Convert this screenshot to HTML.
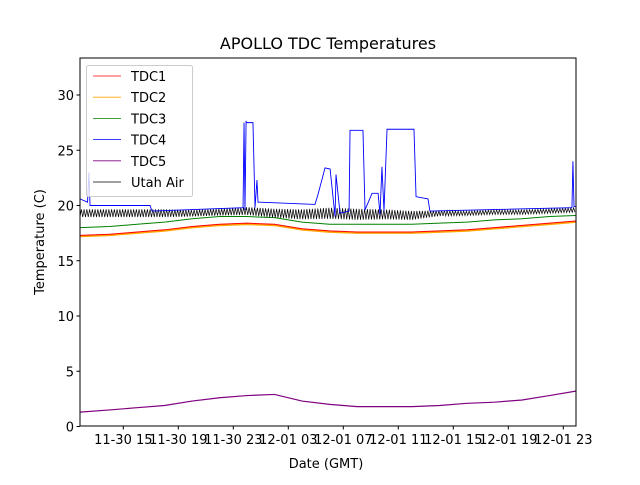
<!DOCTYPE html>
<html><head><meta charset="utf-8"><style>
body{margin:0;background:#fff}
text{font-family:"DejaVu Sans","Liberation Sans",sans-serif}
</style></head><body>
<svg id="chart" width="640" height="480" xmlns="http://www.w3.org/2000/svg">
<rect width="640" height="480" fill="#fff"/>
<text x="328" y="49" font-size="16" text-anchor="middle">APOLLO TDC Temperatures</text>
<g id="plot"></g>
<g id="axes"></g>
<text x="326" y="468" font-size="13" text-anchor="middle">Date (GMT)</text>
<text transform="translate(44,242) rotate(-90)" font-size="13" text-anchor="middle">Temperature (C)</text>
<g id="legend"></g>
</svg>
<script>
// hours since 11-30 00:00 GMT
const smoothHours = [11.85,14,16,18,20,22,24,26,28,30,32,34,36,38,40,42,44,46,47.9];
const tdc1 = [17.3,17.4,17.6,17.8,18.1,18.3,18.4,18.3,17.9,17.7,17.6,17.6,17.6,17.7,17.8,18.0,18.2,18.4,18.6];
const tdc2 = [17.2,17.3,17.5,17.7,18.0,18.2,18.3,18.2,17.8,17.6,17.5,17.5,17.5,17.6,17.7,17.9,18.1,18.3,18.5];
const tdc3 = [18.0,18.1,18.3,18.5,18.8,19.0,19.0,18.9,18.5,18.3,18.3,18.3,18.3,18.4,18.5,18.7,18.8,19.0,19.1];
const tdc5 = [1.3,1.5,1.7,1.9,2.3,2.6,2.8,2.9,2.3,2.0,1.8,1.8,1.8,1.9,2.1,2.2,2.4,2.8,3.2];
const tdc4Hours = [11.85,12.4,12.5,12.58,16.94,17.09,23.71,23.78,23.85,23.93,24.0,24.43,24.58,24.72,24.8,24.94,28.94,29.16,29.67,30.04,30.4,30.47,30.76,31.42,31.49,32.43,32.58,33.09,33.53,33.67,33.81,33.96,34.18,36.14,36.29,37.16,37.3,47.63,47.7,47.78,47.9];
const tdc4 = [20.6,20.3,23.0,20.0,20.0,19.5,19.8,27.5,19.6,27.6,27.5,27.5,19.8,22.3,20.3,20.3,20.1,21.0,23.4,23.3,19.0,22.8,19.3,19.5,26.8,26.8,19.6,21.1,21.1,19.2,23.5,19.5,26.9,26.9,20.8,20.6,19.5,19.8,24.0,19.9,19.9];
const airHours = [11.85,14,16,18,20,22,24,26,28,30,32,34,36,38,40,42,44,46,47.9];
const airBase = [19.3,19.3,19.3,19.3,19.3,19.4,19.5,19.3,19.2,19.3,19.2,19.2,19.1,19.3,19.3,19.4,19.4,19.5,19.6];
const airAmp = [0.35,0.35,0.35,0.35,0.3,0.3,0.35,0.4,0.45,0.5,0.5,0.45,0.4,0.25,0.2,0.2,0.2,0.2,0.2];
const yTicks = [0,5,10,15,20,25,30];
const xTicks = [15,19,23,27,31,35,39,43,47];
const xLabels = ["11-30 15","11-30 19","11-30 23","12-01 03","12-01 07","12-01 11","12-01 15","12-01 19","12-01 23"];
const legendNames = ["TDC1","TDC2","TDC3","TDC4","TDC5","Utah Air"];
const legendColors = ["#ff0000","#ffa500","#008000","#0000ff","#800080","#000000"];

const L=80,R=576,T=58,B=426;
const x = h => 123.3 + (h-15)*13.75;
const y = v => 426.5 - v*11.05;
const NS="http://www.w3.org/2000/svg";
const plot=document.getElementById('plot'), axes=document.getElementById('axes'), leg=document.getElementById('legend');
function mk(tag, attrs, parent){const e=document.createElementNS(NS,tag);for(const k in attrs)e.setAttribute(k,attrs[k]);parent.appendChild(e);return e;}
function interp(hs,vs,h){for(let i=1;i<hs.length;i++){if(h<=hs[i]){const t=(h-hs[i-1])/(hs[i]-hs[i-1]);return vs[i-1]+t*(vs[i]-vs[i-1]);}}return vs[vs.length-1];}
function line(hs,vs,color,name,w){
  const p=mk('polyline',{points:hs.map((h,i)=>x(h).toFixed(2)+','+y(vs[i]).toFixed(2)).join(' '),fill:'none',stroke:color,'stroke-width':w},plot);
  
  
}
line(smoothHours,tdc5,'#800080','series-tdc5',1.2);
line(smoothHours,tdc2,'#ffa500','series-tdc2',1.6);
line(smoothHours,tdc1,'#ff0000','series-tdc1',1.0);
line(smoothHours,tdc3,'#008000','series-tdc3',1.0);
const ah=[],av=[];let s=0;
for(let h=airHours[0];h<=airHours[airHours.length-1];h+=0.1){ah.push(h);av.push(interp(airHours,airBase,h)+(s%2?1:-1)*interp(airHours,airAmp,h));s++;}
line(ah,av,'#000000','series-utah-air',0.7);
line(tdc4Hours,tdc4,'#0000ff','series-tdc4',0.9);

const fr=mk('rect',{x:L,y:T,width:R-L,height:B-T,fill:'none',stroke:'#000','stroke-width':1},axes);


yTicks.forEach(v=>{
  const t=mk('line',{x1:L-3.5,x2:L,y1:y(v),y2:y(v),stroke:'#000'},axes);
  
  
  const tx=mk('text',{x:L-6,y:y(v)+5,'font-size':13,'text-anchor':'end'},axes);
  tx.textContent=v;
  
  
});
xTicks.forEach((h,i)=>{
  const t=mk('line',{x1:x(h),x2:x(h),y1:B,y2:B+3.5,stroke:'#000'},axes);
  
  
  const tx=mk('text',{x:x(h),y:B+18,'font-size':13,'text-anchor':'middle'},axes);
  tx.textContent=xLabels[i];
  
  
});
const lb=mk('rect',{x:86.5,y:65.5,width:106,height:131,rx:2,fill:'#fff','fill-opacity':0.8,stroke:'#ccc'},leg);


legendNames.forEach((n,i)=>{
  const yy=76+i*21.2;
  const g=mk('g',{},leg);
  
  
  mk('line',{x1:93,x2:121,y1:yy,y2:yy,stroke:legendColors[i],'stroke-width':0.8},g);
  const tx=mk('text',{x:131,y:yy+5,'font-size':13},g);
  tx.textContent=n;
});
</script>
</body></html>
